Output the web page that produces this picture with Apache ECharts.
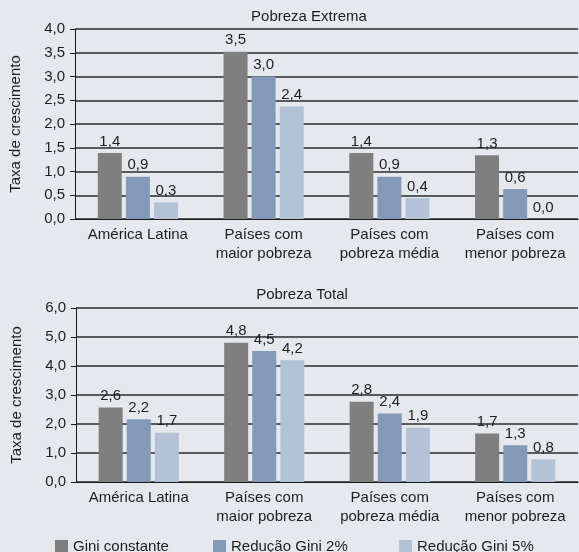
<!DOCTYPE html>
<html>
<head>
<meta charset="utf-8">
<script src="https://cdn.jsdelivr.net/npm/echarts@6/dist/echarts.min.js"></script>
<style>
html,body{margin:0;padding:0;background:#e5e9ed;}
#c{width:579px;height:552px;}
</style>
</head>
<body>
<div id="c"></div>
<script>
const categories = ['América Latina', 'Países com\nmaior pobreza', 'Países com\npobreza média', 'Países com\nmenor pobreza'];
const seriesNames = ['Gini constante', 'Redução Gini 2%', 'Redução Gini 5%'];
// Pobreza Extrema
const extremaGini = [1.39, 3.52, 1.39, 1.34];
const extrema2 = [0.89, 3.0, 0.89, 0.63];
const extrema5 = [0.35, 2.37, 0.44, 0.0];
// Pobreza Total
const totalGini = [2.57, 4.8, 2.77, 1.67];
const total2 = [2.16, 4.52, 2.36, 1.27];
const total5 = [1.7, 4.2, 1.87, 0.78];
const yTicksExtrema = [0, 0.5, 1, 1.5, 2, 2.5, 3, 3.5, 4];
const yTicksTotal = [0, 1, 2, 3, 4, 5, 6];
const titles = ['Pobreza Extrema', 'Pobreza Total'];
const yName = 'Taxa de crescimento';
const colors = ['#7f7f7f', '#8399b8', '#b3c2d7'];

const FONT = 'Liberation Sans, Arial, sans-serif';
const txt = '#1e1e1e';
const fmt = v => v.toFixed(1).replace('.', ',');

function xAx(idx) {
  return {
    type: 'category', gridIndex: idx, data: categories,
    axisLine: {lineStyle: {color: '#1a1a1a', width: 1}},
    axisTick: {length: 4, lineStyle: {color: '#1a1a1a'}},
    axisLabel: {color: txt, fontSize: 15, fontFamily: FONT, lineHeight: 19, margin: 6, interval: 0}
  };
}
function yAx(idx, ticks) {
  const step = ticks[1] - ticks[0];
  return {
    type: 'value', gridIndex: idx, min: ticks[0], max: ticks[ticks.length - 1], interval: step,
    name: yName, nameLocation: 'middle', nameGap: 52, nameRotate: 90,
    nameTextStyle: {color: txt, fontSize: 15, fontFamily: FONT},
    axisLine: {show: true, lineStyle: {color: '#1a1a1a', width: 1}},
    axisTick: {show: true, length: 5, lineStyle: {color: '#1a1a1a'}},
    axisLabel: {color: txt, fontSize: 15, fontFamily: FONT, margin: 10, formatter: v => fmt(v)},
    splitLine: {show: true, lineStyle: {color: '#2a2a2a', width: 1.6}}
  };
}
function bar(name, data, idx, ci) {
  return {
    name: name, type: 'bar', xAxisIndex: idx, yAxisIndex: idx, data: data,
    barWidth: 24, barGap: '17%', itemStyle: {color: colors[ci]},
    label: {show: true, position: 'top', distance: 4, color: txt, fontSize: 15, fontFamily: FONT,
      formatter: p => fmt(p.value)},
    animation: false
  };
}
const chart = echarts.init(document.getElementById('c'));
chart.setOption({
  backgroundColor: '#e5e9ed',
  animation: false,
  title: [
    {text: titles[0], left: 309, top: 9, textAlign: 'center', textStyle: {color: txt, fontSize: 15, fontWeight: 'normal', fontFamily: FONT}, padding: 0},
    {text: titles[1], left: 302, top: 287, textAlign: 'center', textStyle: {color: txt, fontSize: 15, fontWeight: 'normal', fontFamily: FONT}, padding: 0}
  ],
  grid: [
    {left: 75, right: 1, top: 29, height: 190},
    {left: 76, right: 1, top: 308, height: 174}
  ],
  legend: [0, 1, 2].map((i) => ({
    data: [seriesNames[i]], left: [55, 213, 399][i], top: 539, padding: 0,
    itemWidth: 13, itemHeight: 13, icon: 'rect',
    textStyle: {color: txt, fontSize: 15, fontFamily: FONT}
  })),
  xAxis: [xAx(0), xAx(1)],
  yAxis: [yAx(0, yTicksExtrema), yAx(1, yTicksTotal)],
  series: [
    bar(seriesNames[0], extremaGini, 0, 0),
    bar(seriesNames[1], extrema2, 0, 1),
    bar(seriesNames[2], extrema5, 0, 2),
    bar(seriesNames[0], totalGini, 1, 0),
    bar(seriesNames[1], total2, 1, 1),
    bar(seriesNames[2], total5, 1, 2)
  ]
});
</script>
</body>
</html>
